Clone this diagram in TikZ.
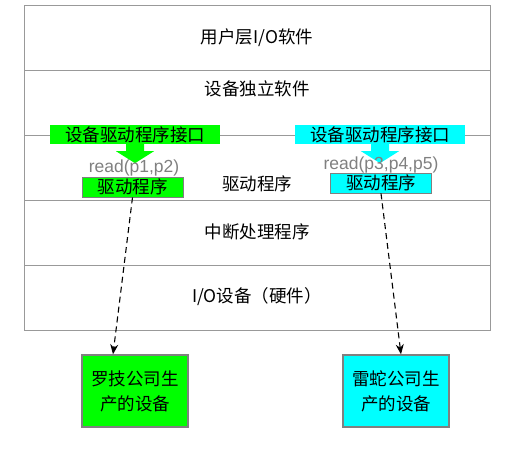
\documentclass[tikz,border=0pt]{standalone}
\usepackage{fontspec}
\setmainfont{Noto Sans CJK SC}
\newfontfamily\latinfont{Liberation Sans}
\usetikzlibrary{arrows.meta,positioning,calc}
\definecolor{drvgreen}{RGB}{0,255,0}
\definecolor{drvcyan}{RGB}{0,255,255}

\begin{document}
\begin{tikzpicture}[x=1pt,y=-1pt,
  layer/.style={font=\fontsize{17.5}{18}\selectfont},
  iface/.style={inner sep=0pt, minimum width=170pt, minimum height=19pt, font=\fontsize{17.5}{19}\selectfont},
  drvbox/.style={draw=gray, line width=0.8pt, inner sep=0pt, minimum width=101pt, minimum height=20pt, font=\fontsize{17.5}{19}\selectfont},
  devbox/.style={draw=gray, line width=1.3pt, minimum width=106pt, minimum height=72pt, align=center, font=\fontsize{17.5}{25}\selectfont},
  readlbl/.style={text=gray, inner sep=0pt, font=\latinfont\fontsize{17.5}{19}\selectfont},
  link/.style={line width=1.1pt, dash pattern=on 6pt off 4pt, -{Stealth[length=10pt,width=8pt]}}]
\useasboundingbox (0,0) rectangle (514,450);

% layer stack
\draw[gray!80, line width=0.9pt] (24,5) rectangle (490,330);
\foreach \y in {70,135,200,265} {
    \draw[gray!80, line width=0.9pt] (24,\y) -- (490,\y);
}

% layer names
\node[layer] (user) at (257,38) {用户层I/O软件};
\node[layer] (indep) at (257,89) {设备独立软件};
\node[layer] (drv) at (257,184) {驱动程序};
\node[layer] (intr) at (257,232) {中断处理程序};
\node[layer] (hw) at (257,297) {I/O设备（硬件）};

% driver interfaces
\node[iface, fill=drvgreen] (ifA) at (135,134.5) {设备驱动程序接口};
\node[iface, fill=drvcyan] (ifB) at (380,134.5) {设备驱动程序接口};

% block arrows below the interfaces
\fill[drvgreen] ($(ifA.south)+(-9,0)$) -- ++(18,0) -- ++(0,7) -- ++(10,0)
    -- ++(-19,12) -- ++(-19,-12) -- ++(10,0) -- cycle;
\fill[drvcyan] ($(ifB.south)+(-9,0)$) -- ++(18,0) -- ++(0,7) -- ++(10,0)
    -- ++(-19,12) -- ++(-19,-12) -- ++(10,0) -- cycle;

% calls
\node[readlbl] (readA) at (134,168) {read(p1,p2)};
\node[readlbl] (readB) at (381,165) {read(p3,p4,p5)};

% drivers
\node[drvbox, fill=drvgreen] (drvA) at (132.5,187) {驱动程序};
\node[drvbox, fill=drvcyan] (drvB) at (381,183) {驱动程序};

% devices
\node[devbox, fill=drvgreen] (logi) at (135,391) {罗技公司生\\产的设备};
\node[devbox, fill=drvcyan] (razer) at (396,391) {雷蛇公司生\\产的设备};

\draw[link] (drvA.south) -- ([xshift=-22pt]logi.north);
\draw[link] (drvB.south) -- ([xshift=5pt]razer.north);
\end{tikzpicture}
\end{document}
